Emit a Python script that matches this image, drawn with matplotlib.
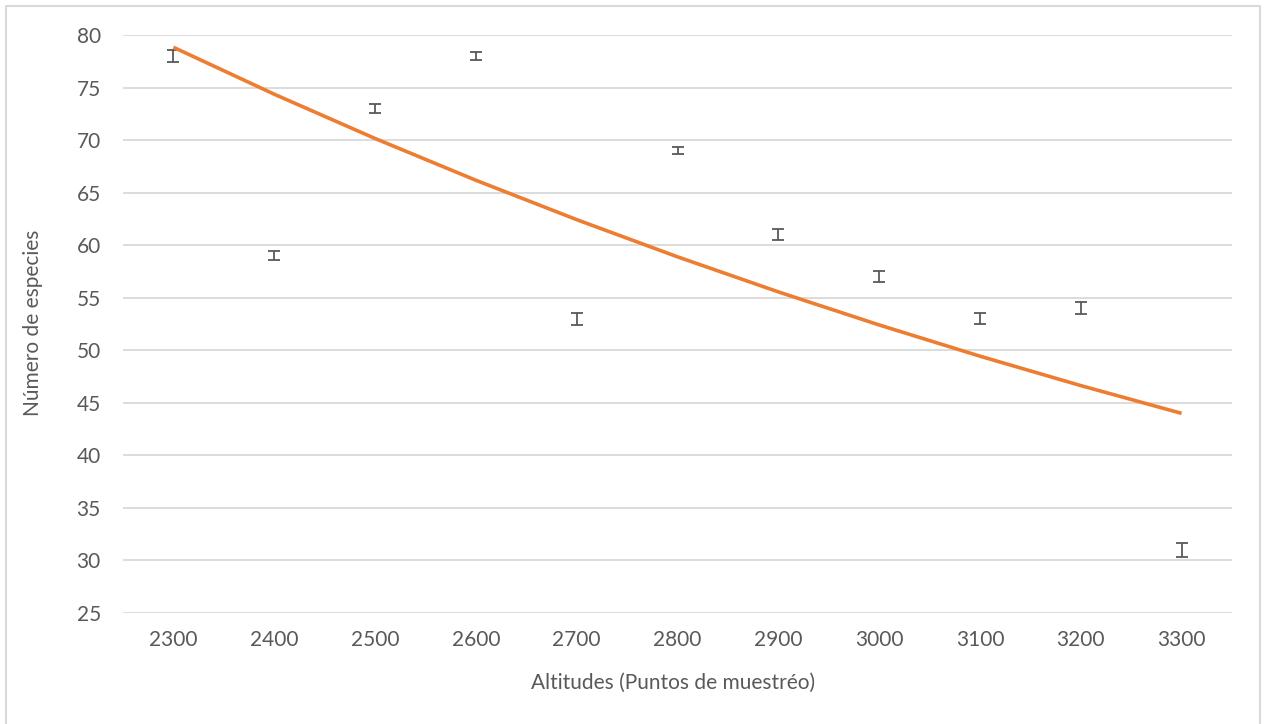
import numpy as np
import matplotlib
matplotlib.use("Agg")
import matplotlib.pyplot as plt
from matplotlib.lines import Line2D

# ── Data ──
altitudes = [2300, 2400, 2500, 2600, 2700, 2800, 2900, 3000, 3100, 3200, 3300]
species = [78, 59, 73, 78, 53, 69, 61, 57, 53, 54, 31]
errors = [0.55, 0.4, 0.4, 0.35, 0.55, 0.35, 0.5, 0.5, 0.5, 0.55, 0.7]
y_ticks = [25, 30, 35, 40, 45, 50, 55, 60, 65, 70, 75, 80]

TEXT = "#595959"
GRID = "#D9D9D9"
ORANGE = "#ED7D31"
FS = 15

plt.rcParams["font.family"] = ["Lato", "DejaVu Sans"]

fig = plt.figure(figsize=(12.67, 7.24), dpi=100)
ax = fig.add_axes([123 / 1267, 1 - 613 / 724, 1109 / 1267, 578 / 724])

# error bars only, no markers
ax.errorbar(altitudes, species, yerr=errors, fmt="none", ecolor=TEXT,
            elinewidth=1.3, capsize=4.3, capthick=1.3, zorder=3)

# exponential trend line (least squares on log values, like Excel)
x = np.array(altitudes, dtype=float)
b, a = np.polyfit(x, np.log(species), 1)
ax.plot(x, np.exp(a + b * x), color=ORANGE, linewidth=2.6,
        solid_capstyle="butt", zorder=4)

ax.set_xlim(2250, 3350)
ax.set_ylim(25, 80)
ax.set_xticks(altitudes)
ax.set_yticks(y_ticks)
ax.grid(axis="y", color=GRID, linewidth=1.3)
ax.set_axisbelow(True)
for s in ax.spines.values():
    s.set_visible(False)
ax.tick_params(length=0, labelsize=FS, colors=TEXT)
ax.tick_params(axis="y", pad=16)
ax.tick_params(axis="x", pad=12)

fig.text(33 / 1267, 1 - 323 / 724, "Número de especies", rotation=90,
         ha="center", va="center", fontsize=FS, color=TEXT)
fig.text(673 / 1267, 1 - 683 / 724, "Altitudes (Puntos de muestréo)",
         ha="center", va="center", fontsize=FS, color=TEXT)

# chart border (left, top, right)
x0, x1, y0 = 6 / 1267, 1260 / 1267, 1 - 6 / 724
fig.add_artist(Line2D([x0, x0, x1, x1], [0, y0, y0, 0], color=GRID,
                      linewidth=1.5, transform=fig.transFigure))

fig.savefig("out.png", dpi=100)
